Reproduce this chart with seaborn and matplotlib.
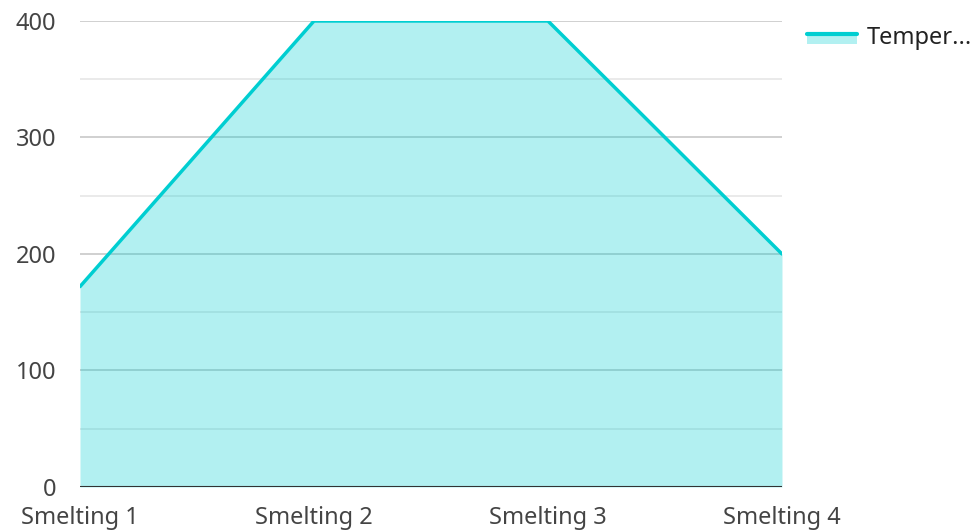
import matplotlib
matplotlib.use("Agg")
import matplotlib.pyplot as plt
import seaborn as sns
import pandas as pd
from matplotlib.patches import Rectangle
from matplotlib.lines import Line2D
from matplotlib.legend_handler import HandlerBase

# data
stages = ["Smelting 1", "Smelting 2", "Smelting 3", "Smelting 4"]
temperature = [172, 400, 400, 200]
series_name = "Temper..."

df = pd.DataFrame({"stage": stages, "temperature": temperature})
df["pos"] = range(len(stages))

sns.set_theme(style="white")
plt.rcParams["font.family"] = ["Noto Sans", "DejaVu Sans"]

line_color = "#00ced1"
fs = 17

fig = plt.figure(figsize=(9.72, 5.31), dpi=100)
ax = fig.add_axes([0.0823, 0.0829, 0.7222, 0.8776])

# grid
for v in range(50, 401, 50):
    ax.axhline(v, color="#c8c8c8" if v % 100 == 0 else "#e6e6e6", lw=1.2, zorder=0)

ax.fill_between(df["pos"], df["temperature"], 0, color=line_color, alpha=0.3, lw=0, zorder=1)
sns.lineplot(data=df, x="pos", y="temperature", color=line_color, lw=2.5, ax=ax, zorder=3)
ax.axhline(0, color="#333333", lw=1.5, zorder=4)

ax.set_xlim(0, 3)
ax.set_ylim(0, 400)
ax.set_xticks(df["pos"])
ax.set_xticklabels(stages)
ax.set_yticks([0, 100, 200, 300, 400])
ax.set_xlabel("")
ax.set_ylabel("")
ax.tick_params(axis="both", labelsize=fs, colors="#444444", length=0)
ax.tick_params(axis="y", pad=17)
ax.tick_params(axis="x", pad=14)
for s in ax.spines.values():
    s.set_visible(False)
ax.set_clip_on(False)


class AreaHandler(HandlerBase):
    def create_artists(self, legend, orig, xd, yd, w, h, fs, trans):
        r = Rectangle((xd, yd), w, h * 0.7, facecolor=line_color, alpha=0.3,
                      edgecolor="none", transform=trans)
        l = Line2D([xd, xd + w], [yd + h * 0.7, yd + h * 0.7], color=line_color,
                   lw=3, transform=trans)
        return [r, l]


ax.legend([Rectangle((0, 0), 1, 1)], [series_name], handler_map={Rectangle: AreaHandler()},
          loc="upper left", bbox_to_anchor=(1.0356, 0.99), frameon=False,
          borderpad=0, borderaxespad=0,
          fontsize=fs, handlelength=2.1, handleheight=0.6, handletextpad=0.42,
          labelcolor="#222222")

fig.savefig("out.png", dpi=100)
